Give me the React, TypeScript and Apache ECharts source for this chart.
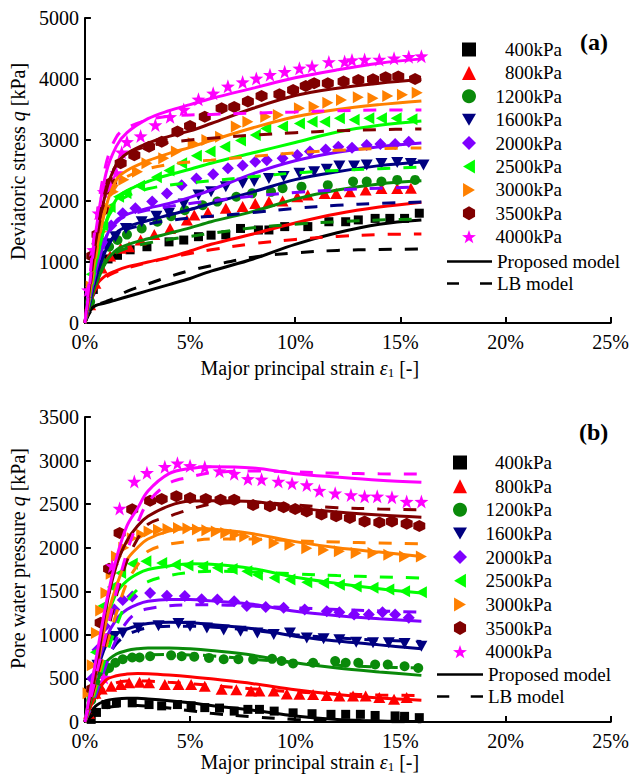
import React, { useEffect, useRef } from 'react';
import * as echarts from 'echarts';

// ---------- labels / ticks ----------
const PRESSURES = ['400kPa', '800kPa', '1200kPa', '1600kPa', '2000kPa', '2500kPa', '3000kPa', '3500kPa', '4000kPa'];
const MODEL_NAMES = ['Proposed model', 'LB model'];
const X_MAX = 25;
const X_STEP = 5;
const A_Y_MAX = 5000;
const A_Y_STEP = 1000;
const B_Y_MAX = 3500;
const B_Y_STEP = 500;

// ---------- panel (a): deviatoric stress ----------
const aModelStrain = [0, 0.25, 0.5, 1, 1.5, 2, 3, 4, 5, 6, 8, 10, 12, 14, 16];

const aProp400 = [0, 200, 285, 330, 380, 430, 530, 630, 730, 850, 1050, 1290, 1480, 1620, 1690];
const aProp800 = [0, 350, 600, 780, 860, 920, 1000, 1080, 1180, 1290, 1460, 1640, 1790, 1900, 1980];
const aProp1200 = [0, 300, 600, 1000, 1200, 1280, 1380, 1470, 1560, 1660, 1830, 2030, 2180, 2280, 2330];
const aProp1600 = [0, 350, 700, 1200, 1480, 1580, 1680, 1770, 1860, 1960, 2150, 2350, 2480, 2580, 2640];
const aProp2000 = [0, 400, 800, 1400, 1680, 1780, 1880, 1960, 2060, 2180, 2450, 2660, 2800, 2890, 2950];
const aProp2500 = [0, 450, 900, 1650, 2030, 2170, 2320, 2430, 2520, 2620, 2790, 2960, 3130, 3240, 3310];
const aProp3000 = [0, 500, 1050, 1900, 2350, 2500, 2660, 2780, 2880, 2990, 3200, 3380, 3500, 3580, 3640];
const aProp3500 = [0, 600, 1250, 2150, 2600, 2780, 2950, 3060, 3150, 3270, 3520, 3730, 3850, 3930, 3990];
const aProp4000 = [0, 700, 1450, 2450, 2900, 3120, 3350, 3480, 3580, 3680, 3850, 4020, 4150, 4260, 4330];

const aLB400 = [0, 180, 280, 350, 420, 520, 640, 760, 860, 940, 1080, 1150, 1190, 1205, 1213];
const aLB800 = [0, 300, 550, 750, 840, 900, 990, 1070, 1140, 1200, 1300, 1370, 1420, 1450, 1460];
const aLB1200 = [0, 320, 620, 1000, 1150, 1230, 1310, 1370, 1420, 1470, 1560, 1620, 1660, 1690, 1705];
const aLB1600 = [0, 380, 720, 1220, 1450, 1540, 1620, 1680, 1720, 1750, 1810, 1880, 1930, 1960, 1984];
const aLB2000 = [0, 420, 820, 1400, 1650, 1760, 1850, 1910, 1960, 2000, 2080, 2140, 2180, 2210, 2230];
const aLB2500 = [0, 500, 950, 1650, 1950, 2080, 2200, 2260, 2300, 2330, 2400, 2460, 2500, 2530, 2557];
const aLB3000 = [0, 550, 1100, 1900, 2250, 2400, 2530, 2600, 2640, 2670, 2730, 2790, 2830, 2860, 2870];
const aLB3500 = [0, 650, 1300, 2200, 2600, 2780, 2900, 2960, 3000, 3030, 3080, 3120, 3150, 3170, 3180];
const aLB4000 = [0, 800, 1600, 2600, 3050, 3200, 3330, 3390, 3410, 3420, 3440, 3460, 3480, 3490, 3490];

const aExp400 = [[0.2, 300], [0.4, 550], [0.7, 900], [1.1, 1050], [1.55, 1110], [2.15, 1200], [2.95, 1250], [4.0, 1330], [4.7, 1360], [5.4, 1415], [6.0, 1440], [6.7, 1445], [7.4, 1550], [8.25, 1525], [8.75, 1525], [9.5, 1580], [10.6, 1580], [11.6, 1660], [12.4, 1660], [13.0, 1690], [13.8, 1715], [14.5, 1715], [15.2, 1715], [15.9, 1800]];
const aExp800 = [[0.25, 300], [0.5, 650], [0.8, 900], [1.2, 1100], [1.7, 1225], [2.1, 1250], [2.65, 1360], [3.3, 1450], [4.05, 1550], [4.85, 1690], [5.2, 1770], [5.85, 1810], [6.7, 1880], [7.5, 1910], [8.1, 1960], [8.75, 1990], [9.4, 2000], [10.1, 2070], [10.6, 2100], [11.4, 2125], [11.95, 2125], [12.6, 2150], [13.35, 2180], [14.1, 2205], [14.85, 2205], [15.5, 2210]];
const aExp1200 = [[0.25, 350], [0.5, 700], [0.8, 1000], [1.15, 1250], [1.55, 1360], [2.0, 1450], [2.7, 1550], [3.45, 1660], [4.1, 1750], [4.75, 1850], [5.6, 1930], [6.3, 1990], [7.2, 2070], [7.95, 2125], [8.85, 2150], [9.4, 2210], [10.3, 2235], [11.55, 2260], [12.75, 2320], [13.4, 2320], [14.1, 2320], [14.85, 2345], [15.7, 2345]];
const aExp1600 = [[0.25, 400], [0.5, 800], [0.75, 1100], [1.1, 1300], [1.45, 1415], [1.95, 1550], [2.7, 1660], [3.4, 1750], [4.0, 1800], [4.7, 1950], [5.4, 2100], [6.0, 2150], [6.7, 2235], [7.5, 2290], [8.05, 2320], [8.75, 2370], [9.45, 2400], [10.2, 2455], [10.9, 2480], [11.5, 2520], [12.1, 2575], [12.8, 2575], [13.4, 2590], [14.1, 2615], [14.85, 2630], [15.5, 2615], [16.1, 2590]];
const aExp2000 = [[0.3, 600], [0.6, 1000], [0.9, 1300], [1.25, 1600], [1.8, 1800], [2.4, 1880], [3.2, 1990], [3.9, 2125], [4.6, 2260], [5.3, 2370], [6.1, 2440], [6.8, 2535], [7.5, 2580], [8.1, 2645], [8.65, 2670], [9.4, 2700], [10.1, 2755], [10.7, 2810], [11.45, 2845], [12.05, 2890], [12.7, 2875], [13.4, 2920], [14.05, 2935], [14.75, 2935], [15.4, 2970]];
const aExp2500 = [[0.3, 800], [0.55, 1300], [0.85, 1600], [1.2, 1900], [1.6, 2070], [1.95, 2130], [2.6, 2250], [3.4, 2390], [4.0, 2500], [4.6, 2620], [5.3, 2740], [5.95, 2810], [6.65, 2890], [7.4, 2990], [8.1, 3080], [8.6, 3190], [9.4, 3220], [10.2, 3270], [10.8, 3300], [11.4, 3300], [12.1, 3355], [12.8, 3330], [13.5, 3355], [14.1, 3355], [14.8, 3355], [15.55, 3340]];
const aExp3000 = [[0.3, 600], [0.55, 1000], [0.8, 1500], [1.05, 1900], [1.35, 2150], [1.85, 2350], [2.5, 2480], [2.95, 2620], [3.75, 2700], [4.35, 2810], [5.15, 2945], [5.8, 3000], [6.45, 3055], [7.2, 3220], [7.75, 3300], [8.6, 3380], [9.2, 3410], [10.2, 3520], [10.9, 3545], [11.55, 3610], [12.2, 3655], [13.0, 3700], [13.7, 3685], [14.4, 3720], [15.1, 3740], [15.8, 3775]];
const aExp3500 = [[0.35, 1100], [0.6, 1450], [0.85, 1850], [1.05, 2200], [1.25, 2300], [1.7, 2620], [2.35, 2750], [3.05, 2890], [3.65, 2970], [4.4, 3140], [5.0, 3230], [5.7, 3380], [6.5, 3520], [7.1, 3540], [7.75, 3630], [8.4, 3720], [9.25, 3750], [9.9, 3820], [10.5, 3885], [10.9, 3930], [11.55, 3930], [12.3, 3960], [13.0, 3985], [13.7, 3995], [14.3, 4030], [14.9, 4040], [15.7, 4000]];
const aExp4000 = [[0.15, 540], [0.4, 1200], [0.65, 1800], [0.9, 2150], [1.2, 2250], [1.5, 2460], [1.75, 2800], [2.0, 2970], [2.65, 3065], [3.35, 3246], [4.05, 3380], [4.7, 3500], [5.4, 3667], [6.1, 3765], [6.8, 3880], [7.5, 3950], [8.15, 4010], [8.8, 4070], [9.5, 4120], [10.2, 4175], [10.8, 4210], [11.6, 4280], [12.35, 4285], [12.7, 4310], [13.3, 4320], [14.0, 4320], [14.7, 4340], [15.4, 4365], [16.0, 4375]];

// ---------- panel (b): pore water pressure ----------
const bModelStrain = [0, 0.5, 1, 1.5, 2, 2.5, 3, 4, 5, 6, 8, 10, 12, 14, 16];

const bProp400 = [0, 180, 245, 265, 272, 272, 265, 245, 220, 190, 135, 70, 30, 12, 5];
const bProp800 = [0, 300, 480, 530, 550, 557, 555, 540, 520, 495, 440, 370, 315, 275, 250];
const bProp1200 = [0, 400, 680, 780, 820, 840, 850, 850, 840, 820, 765, 680, 620, 575, 535];
const bProp1600 = [0, 500, 880, 1010, 1065, 1105, 1130, 1145, 1140, 1120, 1070, 985, 930, 885, 840];
const bProp2000 = [0, 550, 950, 1180, 1290, 1350, 1385, 1405, 1405, 1390, 1350, 1270, 1220, 1185, 1155];
const bProp2500 = [0, 650, 1150, 1480, 1620, 1700, 1750, 1790, 1815, 1810, 1760, 1660, 1590, 1530, 1480];
const bProp3000 = [0, 520, 1150, 1560, 1860, 2000, 2100, 2190, 2220, 2215, 2160, 2070, 2000, 1950, 1900];
const bProp3500 = [0, 550, 1300, 1800, 2080, 2250, 2360, 2480, 2535, 2540, 2530, 2460, 2410, 2375, 2350];
const bProp4000 = [0, 680, 1350, 1880, 2250, 2450, 2650, 2850, 2910, 2930, 2915, 2850, 2810, 2775, 2750];

const bLB400 = [0, 100, 160, 180, 190, 188, 180, 160, 130, 100, 60, 30, 15, 5, 0];
const bLB800 = [0, 250, 400, 450, 470, 472, 470, 455, 440, 420, 380, 345, 325, 310, 305];
const bLB1200 = [0, 300, 550, 680, 740, 760, 770, 775, 770, 760, 720, 680, 650, 630, 620];
const bLB1600 = [0, 350, 700, 900, 1000, 1050, 1080, 1100, 1100, 1090, 1050, 1000, 965, 940, 925];
const bLB2000 = [0, 300, 650, 950, 1150, 1260, 1300, 1335, 1345, 1345, 1330, 1310, 1290, 1275, 1260];
const bLB2500 = [0, 350, 750, 1100, 1380, 1520, 1610, 1680, 1715, 1730, 1720, 1700, 1680, 1665, 1653];
const bLB3000 = [0, 400, 850, 1250, 1600, 1800, 1960, 2040, 2075, 2100, 2100, 2080, 2065, 2055, 2045];
const bLB3500 = [0, 450, 950, 1450, 1850, 2100, 2270, 2360, 2440, 2500, 2520, 2490, 2460, 2445, 2435];
const bLB4000 = [0, 500, 1000, 1500, 1950, 2280, 2520, 2740, 2810, 2860, 2880, 2870, 2855, 2848, 2845];

const bExp400 = [[0.3, 30], [0.55, 110], [1.0, 200], [1.5, 220], [2.25, 220], [3.05, 200], [3.65, 185], [4.4, 200], [5.05, 185], [5.7, 165], [6.4, 160], [7.1, 125], [7.75, 145], [8.3, 145], [9.0, 125], [9.9, 105], [10.8, 95], [11.7, 88], [12.4, 88], [13.1, 88], [13.8, 75], [14.75, 70], [15.2, 65], [15.9, 50]];
const bExp800 = [[0.2, 100], [0.5, 330], [0.8, 380], [1.25, 410], [1.7, 430], [2.1, 450], [2.6, 455], [3.05, 450], [3.8, 430], [4.45, 430], [5.05, 430], [5.7, 410], [6.5, 375], [7.2, 370], [7.9, 355], [8.3, 355], [8.98, 355], [9.6, 320], [10.2, 318], [10.85, 317], [11.5, 305], [12.1, 298], [12.75, 298], [13.35, 298], [14.0, 280], [14.7, 260], [15.3, 280]];
const bExp1200 = [[0.3, 250], [0.6, 430], [0.85, 550], [1.15, 620], [1.45, 680], [1.8, 720], [2.25, 740], [2.6, 740], [3.1, 755], [4.1, 765], [4.6, 755], [5.2, 750], [5.9, 735], [6.6, 720], [7.3, 720], [8.0, 718], [8.9, 725], [9.35, 700], [9.9, 672], [10.85, 680], [11.9, 700], [12.4, 680], [13.0, 680], [13.8, 660], [14.4, 660], [15.2, 640], [15.85, 620]];
const bExp1600 = [[0.3, 300], [0.6, 650], [1.0, 930], [1.4, 980], [1.8, 1020], [2.55, 1080], [3.5, 1105], [4.45, 1130], [5.0, 1100], [5.8, 1080], [6.6, 1055], [7.4, 1040], [8.2, 1020], [8.98, 1005], [9.75, 1020], [10.55, 965], [11.35, 955], [12.1, 945], [12.9, 915], [13.7, 910], [14.45, 910], [15.2, 900], [16.0, 870]];
const bExp2000 = [[0.35, 500], [0.6, 830], [0.95, 1100], [1.4, 1290], [1.8, 1400], [2.25, 1440], [3.1, 1480], [3.9, 1450], [4.75, 1445], [5.55, 1410], [6.3, 1405], [7.1, 1385], [7.7, 1330], [8.6, 1320], [9.45, 1310], [10.45, 1290], [11.5, 1270], [12.1, 1260], [12.8, 1235], [13.5, 1235], [14.15, 1260], [14.75, 1235], [15.4, 1195]];
const bExp2500 = [[0.2, 300], [0.5, 800], [0.85, 1330], [1.3, 1550], [1.7, 1710], [2.25, 1815], [2.9, 1845], [3.65, 1825], [4.3, 1805], [4.9, 1795], [5.6, 1785], [6.3, 1770], [7.0, 1755], [7.7, 1730], [8.2, 1690], [9.0, 1655], [9.75, 1635], [10.55, 1605], [11.35, 1595], [12.1, 1575], [12.9, 1555], [13.7, 1540], [14.45, 1520], [15.2, 1500], [16.0, 1490]];
const bExp3000 = [[0.15, 330], [0.35, 650], [0.55, 1020], [0.75, 1280], [1.0, 1480], [1.25, 1700], [1.5, 1900], [1.85, 2000], [2.25, 2110], [2.7, 2150], [3.05, 2185], [3.5, 2205], [3.95, 2215], [4.45, 2225], [4.9, 2220], [5.35, 2210], [5.8, 2200], [6.25, 2185], [6.7, 2170], [7.15, 2150], [7.6, 2130], [8.2, 2090], [9.0, 2055], [9.75, 2035], [10.55, 1995], [11.35, 1975], [12.1, 1960], [12.9, 1940], [13.7, 1940], [14.45, 1920], [15.2, 1900], [16.0, 1900]];
const bExp3500 = [[0.35, 380], [0.75, 1140], [1.15, 1760], [1.65, 2170], [2.25, 2440], [3.1, 2540], [3.65, 2560], [4.35, 2590], [5.0, 2570], [5.75, 2560], [6.45, 2550], [7.1, 2550], [8.0, 2490], [8.8, 2475], [9.45, 2465], [10.0, 2445], [10.55, 2415], [11.25, 2380], [11.95, 2360], [12.6, 2340], [13.3, 2300], [14.0, 2290], [14.6, 2300], [15.3, 2275], [15.9, 2250]];
const bExp4000 = [[0.9, 510], [1.3, 1790], [1.65, 2450], [2.35, 2760], [2.95, 2860], [3.8, 2930], [4.4, 2970], [5.0, 2940], [5.7, 2925], [6.4, 2880], [7.1, 2850], [7.75, 2790], [8.4, 2785], [9.2, 2760], [9.85, 2740], [10.55, 2720], [11.15, 2655], [11.9, 2625], [12.65, 2605], [13.3, 2590], [13.9, 2590], [14.6, 2580], [15.3, 2530], [16.0, 2530]];

const aExpAll = [aExp400, aExp800, aExp1200, aExp1600, aExp2000, aExp2500, aExp3000, aExp3500, aExp4000];
const aPropAll = [aProp400, aProp800, aProp1200, aProp1600, aProp2000, aProp2500, aProp3000, aProp3500, aProp4000];
const aLBAll = [aLB400, aLB800, aLB1200, aLB1600, aLB2000, aLB2500, aLB3000, aLB3500, aLB4000];
const bExpAll = [bExp400, bExp800, bExp1200, bExp1600, bExp2000, bExp2500, bExp3000, bExp3500, bExp4000];
const bPropAll = [bProp400, bProp800, bProp1200, bProp1600, bProp2000, bProp2500, bProp3000, bProp3500, bProp4000];
const bLBAll = [bLB400, bLB800, bLB1200, bLB1600, bLB2000, bLB2500, bLB3000, bLB3500, bLB4000];

// ---------- styles ----------
const SERIF = '"Liberation Serif", "Times New Roman", Times, serif';
const COLORS = ['#000000', '#ff0000', '#0a8a0a', '#000080', '#7f00ff', '#00ff00', '#ff8000', '#800000', '#ff00ff'];
const HEX = 'path://M10,0 L18.66,5 L18.66,15 L10,20 L1.34,15 L1.34,5 Z';
const STAR = 'path://M10,0 L12.35,6.76 L19.51,6.91 L13.8,11.24 L15.88,18.09 L10,14 L4.12,18.09 L6.2,11.24 L0.49,6.91 L7.65,6.76 Z';
const TRI_DOWN = 'path://M0,0 L20,0 L10,17 Z';
const TRI_LEFT = 'path://M17,0 L17,20 L0,10 Z';
const TRI_RIGHT = 'path://M0,0 L0,20 L17,10 Z';
const SYMBOLS = ['rect', 'triangle', 'circle', TRI_DOWN, 'diamond', TRI_LEFT, TRI_RIGHT, HEX, STAR];
const SYMBOL_SIZES: any[] = [9, [12, 11], 10, [12, 11], 12, [11, 12], [11, 12], 12, 14];
const DASH = [13, 13];
const LINE_W = 3;
const ICON_SOLID = 'path://M0,0 L45,0 L45,2.6 L0,2.6 Z';
const ICON_DASH = 'path://M0,0 L12,0 L12,2.6 L0,2.6 Z M33,0 L45,0 L45,2.6 L33,2.6 Z';

function zip(xs: number[], ys: number[]) {
  return xs.map((x, i) => [x, ys[i]]);
}

function panelSeries(idx: number, exps: number[][][], props: number[][], lbs: number[][], strains: number[]) {
  const out: any[] = [];
  exps.forEach((d, i) => {
    out.push({
      type: 'scatter', name: PRESSURES[i], xAxisIndex: idx, yAxisIndex: idx, data: d,
      symbol: SYMBOLS[i], symbolSize: SYMBOL_SIZES[i], itemStyle: { color: COLORS[i], opacity: 1 }, z: 2, silent: true,
    });
  });
  props.forEach((v, i) => {
    out.push({
      type: 'line', name: `Proposed ${PRESSURES[i]} ${idx}`, xAxisIndex: idx, yAxisIndex: idx, data: zip(strains, v),
      symbol: 'none', smooth: 0.35, lineStyle: { color: COLORS[i], width: LINE_W }, z: 3, silent: true,
    });
  });
  lbs.forEach((v, i) => {
    out.push({
      type: 'line', name: `LB ${PRESSURES[i]} ${idx}`, xAxisIndex: idx, yAxisIndex: idx, data: zip(strains, v),
      symbol: 'none', smooth: 0.35, lineStyle: { color: COLORS[i], width: LINE_W, type: DASH }, z: 3, silent: true,
    });
  });
  return out;
}

const richName = {
  i: { fontFamily: SERIF, fontSize: 20, fontStyle: 'italic', color: '#000' },
  s: { fontFamily: SERIF, fontSize: 13, color: '#000', padding: [10, 0, 0, 0] },
};

function xAxis(gridIndex: number, labelMargin: number, nameGap: number) {
  return {
    gridIndex, type: 'value', min: 0, max: X_MAX, interval: X_STEP,
    axisLine: { show: true, onZero: false, lineStyle: { color: '#000', width: 2 } },
    axisTick: { show: true, inside: true, length: 6, lineStyle: { color: '#000', width: 2 } },
    axisLabel: { formatter: '{value}%', fontFamily: SERIF, fontSize: 20, lineHeight: 16, color: '#000', margin: labelMargin },
    splitLine: { show: false },
    name: 'Major principal strain {i|ε}{s|1} [-]',
    nameLocation: 'middle', nameGap,
    nameTextStyle: { fontFamily: SERIF, fontSize: 20, color: '#000', padding: [0, 76, 0, 0], rich: richName },
  };
}

function yAxis(gridIndex: number, max: number, step: number, name: string, shift: number) {
  return {
    gridIndex, type: 'value', min: 0, max, interval: step,
    axisLine: { show: true, onZero: false, lineStyle: { color: '#000', width: 2 } },
    axisTick: { show: true, inside: true, length: 6, lineStyle: { color: '#000', width: 2 } },
    axisLabel: { formatter: (v: number) => String(v), fontFamily: SERIF, fontSize: 20, lineHeight: 16, color: '#000', margin: 6 },
    splitLine: { show: false },
    name, nameLocation: 'middle', nameGap: 50,
    nameTextStyle: { fontFamily: SERIF, fontSize: 20, color: '#000', padding: [0, 0, 0, shift], rich: richName },
  };
}

function markerLegend(left: number, top: number, textWidth: number, gap: number) {
  return {
    orient: 'vertical', left, top, itemWidth: 14, itemHeight: 14, itemGap: gap, padding: 0,
    data: PRESSURES, selectedMode: false,
    formatter: (n: string) => `{r|${n}}`,
    textStyle: {
      fontFamily: SERIF, fontSize: 19, color: '#000', lineHeight: 16,
      rich: { r: { width: textWidth, align: 'right', fontFamily: SERIF, fontSize: 19, lineHeight: 16, color: '#000' } },
    },
  };
}

function lineLegend(left: number, top: number, width: number) {
  return {
    orient: 'vertical', left, top, itemWidth: width, itemHeight: 14, itemGap: 3, padding: 0,
    data: [{ name: MODEL_NAMES[0], icon: ICON_SOLID }, { name: MODEL_NAMES[1], icon: ICON_DASH }],
    selectedMode: false, itemStyle: { color: '#000' },
    textStyle: { fontFamily: SERIF, fontSize: 19, color: '#000', lineHeight: 16 },
  };
}

export default function App() {
  const ref = useRef<HTMLDivElement>(null);
  useEffect(() => {
    const chart = echarts.init(ref.current!, null, { renderer: 'svg' });
    const series: any[] = [
      { type: 'line', name: MODEL_NAMES[0], xAxisIndex: 0, yAxisIndex: 0, data: [], symbol: 'none', itemStyle: { color: '#000' }, lineStyle: { color: '#000', width: LINE_W } },
      { type: 'line', name: MODEL_NAMES[1], xAxisIndex: 0, yAxisIndex: 0, data: [], symbol: 'none', itemStyle: { color: '#000' }, lineStyle: { color: '#000', width: LINE_W, type: DASH } },
      ...panelSeries(0, aExpAll, aPropAll, aLBAll, aModelStrain),
      ...panelSeries(1, bExpAll, bPropAll, bLBAll, bModelStrain),
    ];
    chart.setOption({
      animation: false,
      backgroundColor: '#fff',
      grid: [
        { left: 82, right: 17, top: 18, height: 305 },
        { left: 82, right: 17, top: 417, height: 305 },
      ],
      xAxis: [xAxis(0, 11, 33), xAxis(1, 11, 24)],
      yAxis: [
        yAxis(0, A_Y_MAX, A_Y_STEP, 'Deviatoric stress {i|q} [kPa]', 18),
        yAxis(1, B_Y_MAX, B_Y_STEP, 'Pore water pressure {i|q} [kPa]', 22),
      ],
      legend: [
        markerLegend(462, 40, 81, 4.4),
        lineLegend(447, 252, 45),
        markerLegend(453, 453, 80, 4.65),
        lineLegend(437, 665, 46),
      ],
      graphic: [
        { type: 'text', left: 580, top: 30, style: { text: '(a)', fontFamily: SERIF, fontSize: 24, fontWeight: 'bold', fill: '#000' } },
        { type: 'text', left: 579, top: 420, style: { text: '(b)', fontFamily: SERIF, fontSize: 24, fontWeight: 'bold', fill: '#000' } },
      ],
      series,
    });
    return () => chart.dispose();
  }, []);
  return <div ref={ref} style={{ position: 'fixed', left: 0, top: 0, width: 632, height: 776, background: '#fff' }} />;
}
